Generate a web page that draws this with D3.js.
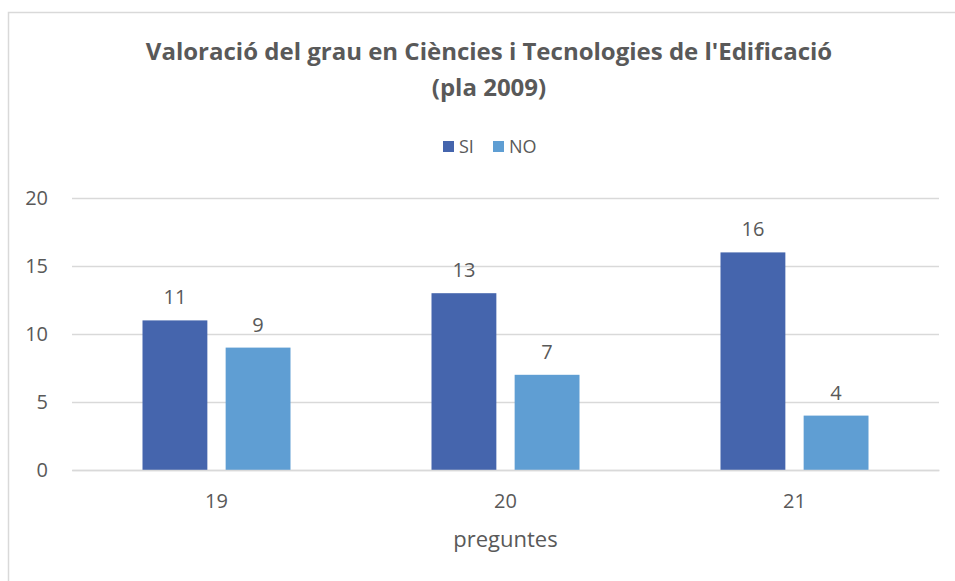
<!DOCTYPE html>
<html lang="ca">
<head>
<meta charset="utf-8"/>
<title>Valoració del grau</title>
<script src="https://d3js.org/d3.v7.min.js"></script>
<style>
  body { margin: 0; background: #fff; }
  text { font-family: "Open Sans", "Liberation Sans", sans-serif; fill: #595959; }
  .grid line { stroke: #d9d9d9; stroke-width: 1.3px; }
</style>
</head>
<body>
<div id="chart"></div>
<script>
// data
var categories = ["19", "20", "21"];
var seriesNames = ["SI", "NO"];
var siValues = [11, 13, 16];
var noValues = [9, 7, 4];
var yTicks = [0, 5, 10, 15, 20];
var colors = ["#4565ad", "#5f9ed3"];

var W = 955, H = 581;
var margin = { top: 198, right: 16, bottom: 111, left: 72 },
  width = 939 - margin.left,
  height = 470 - margin.top;

var svg = d3.select("#chart").append("svg")
  .attr("width", W)
  .attr("height", H);

// chart frame
svg.append("rect")
  .attr("x", 8.5).attr("y", 12.5)
  .attr("width", W + 10).attr("height", H + 10)
  .attr("fill", "none")
  .attr("stroke", "#d9d9d9")
  .attr("stroke-width", 1.5);

var g = svg.append("g")
  .attr("transform", "translate(" + margin.left + "," + margin.top + ")");

var x = d3.scaleBand()
  .domain(categories)
  .range([0, width])
  .paddingInner(0)
  .paddingOuter(0);

var x1 = d3.scaleBand()
  .domain(seriesNames)
  .range([x.bandwidth() / 2 - 74, x.bandwidth() / 2 + 74])
  .paddingInner(0.22)
  .paddingOuter(0);

var y = d3.scaleLinear()
  .domain([0, 20])
  .range([height, 0]);

// gridlines
g.append("g")
  .attr("class", "grid")
  .call(d3.axisLeft(y).tickValues(yTicks).tickSize(-width).tickFormat(""))
  .call(function(s) { s.select(".domain").remove(); });

// y labels
g.append("g")
  .call(d3.axisLeft(y).tickValues(yTicks).tickSize(0).tickPadding(24))
  .call(function(s) {
    s.select(".domain").remove();
    s.selectAll("text").style("font-size", "20px").attr("fill", "#595959");
  });

var rows = categories.map(function(c, i) {
  return { cat: c, values: [siValues[i], noValues[i]] };
});

var groups = g.selectAll(".grp")
  .data(rows)
  .enter().append("g")
  .attr("class", "grp")
  .attr("transform", function(d) { return "translate(" + x(d.cat) + ",0)"; });

groups.selectAll("rect")
  .data(function(d) { return d.values.map(function(v, j) { return { s: seriesNames[j], v: v, j: j }; }); })
  .enter().append("rect")
  .attr("x", function(d) { return x1(d.s); })
  .attr("y", function(d) { return y(d.v); })
  .attr("width", x1.bandwidth())
  .attr("height", function(d) { return height - y(d.v); })
  .attr("fill", function(d) { return colors[d.j]; });

groups.selectAll(".lbl")
  .data(function(d) { return d.values.map(function(v, j) { return { s: seriesNames[j], v: v }; }); })
  .enter().append("text")
  .attr("class", "lbl")
  .attr("x", function(d) { return x1(d.s) + x1.bandwidth() / 2; })
  .attr("y", function(d) { return y(d.v) - 16; })
  .attr("text-anchor", "middle")
  .style("font-size", "20px")
  .text(function(d) { return d.v; });

// x axis
g.append("g")
  .attr("transform", "translate(0," + height + ")")
  .call(d3.axisBottom(x).tickSize(0).tickPadding(24))
  .call(function(s) {
    s.select(".domain").attr("stroke", "#d9d9d9").attr("stroke-width", 1.5);
    s.selectAll("text").style("font-size", "20px").attr("fill", "#595959");
  });

// axis title
svg.append("text")
  .attr("x", margin.left + width / 2)
  .attr("y", 547)
  .attr("text-anchor", "middle")
  .style("font-size", "22px")
  .text("preguntes");

// title
var title = svg.append("text")
  .attr("text-anchor", "middle")
  .style("font-size", "24px")
  .style("font-weight", "bold");
title.append("tspan").attr("x", 489).attr("y", 60)
  .text("Valoració del grau en Ciències i Tecnologies de l'Edificació");
title.append("tspan").attr("x", 489).attr("y", 96)
  .text("(pla 2009)");

// legend
var legend = svg.append("g")
  .attr("transform", "translate(443,138)");
var items = legend.selectAll("g")
  .data(seriesNames)
  .enter().append("g")
  .attr("transform", function(d, i) { return "translate(" + (i * 50) + ",0)"; });
items.append("rect")
  .attr("width", 11).attr("height", 11)
  .attr("y", 3)
  .attr("fill", function(d, i) { return colors[i]; });
items.append("text")
  .attr("x", 16).attr("y", 15)
  .style("font-size", "18px")
  .text(function(d) { return d; });
</script>
</body>
</html>
